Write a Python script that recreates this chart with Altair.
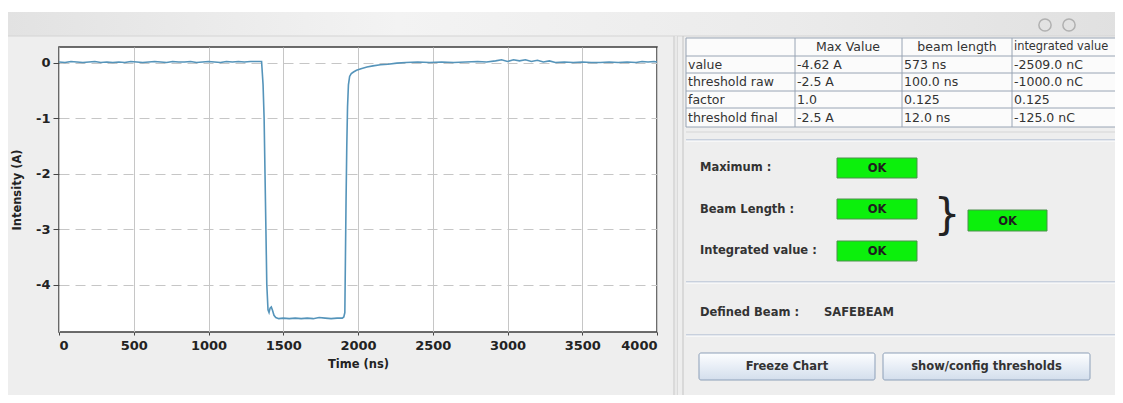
import altair as alt
import pandas as pd

# ---------------- data ----------------
time_ns = [0, 40, 80, 120, 160, 200, 240, 280, 320, 360, 400, 440, 480, 520, 560, 600,
           640, 680, 720, 760, 800, 840, 880, 920, 960, 1000, 1040, 1080, 1120, 1160, 1200,
           1240, 1280, 1320, 1355,
           1365, 1372, 1378, 1384, 1390, 1398, 1405, 1412, 1420, 1428, 1438, 1450, 1470, 1500,
           1540, 1580, 1620, 1660, 1700, 1740, 1780, 1820, 1860, 1895, 1905,
           1912, 1916, 1920, 1925, 1930, 1936, 1944, 1955, 1970, 1990, 2020, 2060, 2100, 2150,
           2200, 2260, 2320, 2400, 2480, 2560, 2640, 2720, 2800, 2860, 2920, 2960, 3000, 3040,
           3080, 3120, 3160, 3200, 3240, 3280, 3320, 3380, 3440, 3500, 3560, 3620, 3680, 3740,
           3800, 3860, 3900, 3940, 3980, 4000]
intensity_a = [0.01, 0.00, 0.02, 0.01, 0.00, 0.01, 0.02, 0.00, 0.01, 0.00, 0.01, 0.00, 0.02,
               0.01, 0.00, 0.01, 0.02, 0.01, 0.00, 0.02, 0.01, 0.01, 0.02, 0.00, 0.01, 0.02,
               0.01, 0.00, 0.02, 0.01, 0.02, 0.01, 0.02, 0.02, 0.02,
               -0.40, -1.00, -2.00, -3.00, -4.00, -4.45, -4.50, -4.42, -4.40, -4.46, -4.55,
               -4.59, -4.61, -4.60, -4.61, -4.60, -4.61, -4.60, -4.61, -4.59, -4.60, -4.61,
               -4.60, -4.60, -4.58,
               -4.50, -3.50, -2.50, -1.50, -0.80, -0.40, -0.25, -0.20, -0.17, -0.14, -0.11,
               -0.08, -0.06, -0.04, -0.03, -0.01, 0.00, 0.01, 0.00, 0.01, 0.00, 0.01, 0.02,
               0.01, 0.03, 0.05, 0.02, 0.05, 0.03, 0.05, 0.02, 0.04, 0.01, 0.03, 0.00, 0.01,
               0.00, 0.01, 0.00, 0.00, 0.01, 0.00, 0.01, 0.00, 0.02, 0.01, 0.02, 0.01]

x_ticks = [0, 500, 1000, 1500, 2000, 2500, 3000, 3500, 4000]
y_ticks = [0, -1, -2, -3, -4]
x_title = "Time (ns)"
y_title = "Intensity (A)"

table_header = ["Max Value", "beam length", "integrated value"]
table_rows = ["value", "threshold raw", "factor", "threshold final"]
max_value_col = ["-4.62 A", "-2.5 A", "1.0", "-2.5 A"]
beam_length_col = ["573 ns", "100.0 ns", "0.125", "12.0 ns"]
integrated_col = ["-2509.0 nC", "-1000.0 nC", "0.125", "-125.0 nC"]

status_labels = ["Maximum :", "Beam Length :", "Integrated value :"]
status_values = ["OK", "OK", "OK"]
overall_status = "OK"
beam_label = "Defined Beam :"
beam_name = "SAFEBEAM"
button_labels = ["Freeze Chart", "show/config thresholds"]

# ---------------- layout (page pixels) ----------------
OX, OY = 59, 47          # plot top-left on the page
PW, PH = 598, 285        # plot size
SVG_W, SVG_H = 1123 - 16, 403 - 16
FONT = "DejaVu Sans"
BG = "#eeeeee"


def X(px):
    return px - OX


def Y(py):
    return py - OY


def pos_enc(df_cols):
    enc = {"x": alt.X("x:Q", scale=None, axis=None), "y": alt.Y("y:Q", scale=None, axis=None)}
    if "x2" in df_cols:
        enc["x2"] = alt.X2("x2:Q")
    if "y2" in df_cols:
        enc["y2"] = alt.Y2("y2:Q")
    return enc


def rects(rows, **kw):
    df = pd.DataFrame(rows)
    enc = pos_enc(df.columns)
    if "fill" in df.columns:
        enc["fill"] = alt.Fill("fill:N", scale=None, legend=None)
    return alt.Chart(df).mark_rect(**kw).encode(**enc)


def rules(rows, **kw):
    df = pd.DataFrame(rows)
    enc = pos_enc(df.columns)
    enc["stroke"] = alt.Stroke("c:N", scale=None, legend=None)
    return alt.Chart(df).mark_rule(**kw).encode(**enc)


def texts(rows, **kw):
    df = pd.DataFrame(rows)
    enc = pos_enc(df.columns)
    enc["text"] = alt.Text("text:N")
    return alt.Chart(df).mark_text(baseline="middle", font=FONT, **kw).encode(**enc)


# ---------------- main line chart ----------------
series = pd.DataFrame({"t": time_ns, "v": intensity_a})

label_style = dict(labelFont=FONT, labelFontWeight="bold", labelFontSize=13, labelColor="#222222",
                   titleFont=FONT, titleFontWeight="bold", titleFontSize=11.5, titleColor="#222222",
                   tickColor="#444444", domain=False)

line = alt.Chart(series).mark_line(color="#5594ba", strokeWidth=1.6, clip=True).encode(
    x=alt.X("t:Q", title=x_title,
            scale=alt.Scale(domain=[0, 4000], nice=False, zero=False),
            axis=alt.Axis(values=x_ticks, grid=True, gridColor="#c6c6c6", gridWidth=1,
                          tickSize=3, labelPadding=4, labelExpr="'' + datum.value",
                          titleY=32, titleBaseline="middle", **label_style)),
    y=alt.Y("v:Q", title=y_title,
            scale=alt.Scale(domain=[-4.85, 0.28], nice=False, zero=False),
            axis=alt.Axis(values=y_ticks, grid=True, gridColor="#c6c6c6", gridDash=[10, 6],
                          gridWidth=1, tickSize=6, labelPadding=3,
                          labelExpr="'' + datum.value",
                          titleX=-42, titleY=PH / 2, titleBaseline="middle", **label_style)),
)

# ---------------- window decorations ----------------
top_white = rects([{"x": X(8), "x2": X(1123), "y": Y(8), "y2": Y(12), "fill": "#ffffff"}])
top_bar = alt.Chart(pd.DataFrame([{"x": X(8), "x2": X(1123), "y": Y(12), "y2": Y(36)}])).mark_rect(
    fill=alt.Gradient(gradient="linear", x1=0, x2=1, y1=0, y2=0,
                      stops=[alt.GradientStop(color="#e2e2e2", offset=0),
                             alt.GradientStop(color="#f3f3f3", offset=0.35),
                             alt.GradientStop(color="#ebebeb", offset=0.7),
                             alt.GradientStop(color="#e0e0e0", offset=1)])
).encode(**pos_enc(["x2", "y2"]))

icons = alt.Chart(pd.DataFrame([{"x": X(1045), "y": Y(25)}, {"x": X(1069), "y": Y(25)},
                                {"x": X(1122), "y": Y(25)}])).mark_point(
    shape="circle", size=150, filled=False, stroke="#9c9c9c", strokeWidth=1.5
).encode(**pos_enc([]))

panels = rects([
    {"x": X(673), "x2": X(678), "y": Y(36), "y2": Y(403), "fill": "#dadada"},
    {"x": X(686), "x2": X(1123), "y": Y(38), "y2": Y(127), "fill": "#fbfbfb"},
], stroke=None)

sep_lines = rules([
    {"x": X(8), "x2": X(1123), "y": Y(36), "y2": Y(36), "c": "#d4d4d4"},
    {"x": X(683), "x2": X(683), "y": Y(36), "y2": Y(403), "c": "#c4c4c4"},
    {"x": X(676), "x2": X(676), "y": Y(36), "y2": Y(403), "c": "#f8f8f8"},
    {"x": X(686), "x2": X(1123), "y": Y(132), "y2": Y(132), "c": "#d6d6d6"},
    {"x": X(686), "x2": X(1123), "y": Y(140), "y2": Y(140), "c": "#a3b3cc"},
    {"x": X(686), "x2": X(1123), "y": Y(141), "y2": Y(141), "c": "#ffffff"},
    {"x": X(686), "x2": X(1123), "y": Y(282), "y2": Y(282), "c": "#a3b3cc"},
    {"x": X(686), "x2": X(1123), "y": Y(283), "y2": Y(283), "c": "#ffffff"},
    {"x": X(686), "x2": X(1123), "y": Y(335), "y2": Y(335), "c": "#a3b3cc"},
    {"x": X(686), "x2": X(1123), "y": Y(336), "y2": Y(336), "c": "#ffffff"},
], strokeWidth=1)

# table grid
col_edges = [686, 795, 902, 1012]
row_edges = [38, 56, 73, 91, 108, 127]
grid_rows = []
for e in col_edges:
    grid_rows.append({"x": X(e), "x2": X(e), "y": Y(row_edges[0]), "y2": Y(row_edges[-1]),
                      "c": "#98a4b4"})
for e in row_edges:
    grid_rows.append({"x": X(col_edges[0]), "x2": X(1123), "y": Y(e), "y2": Y(e), "c": "#98a4b4"})
table_grid = rules(grid_rows, strokeWidth=1)

row_centers = [(row_edges[i] + row_edges[i + 1]) / 2 for i in range(len(row_edges) - 1)]
head_x = [848, 957]
header_center = texts([{"x": X(head_x[i]), "y": Y(row_centers[0]), "text": table_header[i]}
                       for i in range(2)], align="center", fontSize=12.5, color="#333333")
header_left = texts([{"x": X(col_edges[3] + 2), "y": Y(row_centers[0]), "text": table_header[2]}],
                    align="left", fontSize=11.4, color="#333333")
cells = []
columns = [table_rows, max_value_col, beam_length_col, integrated_col]
for ci, col in enumerate(columns):
    for ri, val in enumerate(col):
        cells.append({"x": X(col_edges[ci] + 2), "y": Y(row_centers[ri + 1]), "text": val})
table_text = texts(cells, align="left", fontSize=12.5, color="#333333")

# status section
label_y = [168, 210, 251]
status_text = texts([{"x": X(700), "y": Y(label_y[i]), "text": status_labels[i]} for i in range(3)]
                    + [{"x": X(700), "y": Y(313), "text": beam_label},
                       {"x": X(824), "y": Y(313), "text": beam_name}],
                    align="left", fontSize=11.5, fontWeight="bold", color="#333333")

ok_boxes = [(837, 917, 158, 178), (837, 917, 199, 219), (837, 917, 241, 261)]
big_ok = (968, 1047, 210, 231)
ok_rects = rects([{"x": X(a), "x2": X(b), "y": Y(c), "y2": Y(d), "fill": "#0cf00c"}
                  for (a, b, c, d) in ok_boxes + [big_ok]],
                 stroke="#4d8f4d", strokeWidth=1)
ok_text = texts([{"x": X((a + b) / 2), "y": Y((c + d) / 2 + 1), "text": status_values[i]}
                 for i, (a, b, c, d) in enumerate(ok_boxes)]
                + [{"x": X((big_ok[0] + big_ok[1]) / 2), "y": Y((big_ok[2] + big_ok[3]) / 2 + 1),
                    "text": overall_status}],
                align="center", fontSize=11.5, fontWeight="bold", color="#1e1e1e")
brace = texts([{"x": X(947), "y": Y(216), "text": "}"}], align="center", fontSize=42,
              color="#222222")

# buttons
btn_boxes = [(699, 875, 353, 380), (883, 1090, 353, 380)]
btn_rects = alt.Chart(pd.DataFrame([{"x": X(a), "x2": X(b), "y": Y(c), "y2": Y(d)}
                                    for (a, b, c, d) in btn_boxes])).mark_rect(
    fill=alt.Gradient(gradient="linear", x1=0, x2=0, y1=0, y2=1,
                      stops=[alt.GradientStop(color="#fdfeff", offset=0),
                             alt.GradientStop(color="#e8eef6", offset=0.5),
                             alt.GradientStop(color="#d3deec", offset=1)]),
    stroke="#8c9fb8", strokeWidth=1, cornerRadius=2
).encode(**pos_enc(["x2", "y2"]))
btn_text = texts([{"x": X((a + b) / 2), "y": Y((c + d) / 2), "text": button_labels[i]}
                  for i, (a, b, c, d) in enumerate(btn_boxes)],
                 align="center", fontSize=11.5, fontWeight="bold", color="#333333")

chart = alt.layer(
    top_white, top_bar, icons, panels, sep_lines, table_grid, header_center, header_left,
    table_text, status_text, ok_rects, ok_text, brace, btn_rects, btn_text, line
).resolve_scale(x="independent", y="independent").properties(
    width=PW, height=PH,
    autosize=alt.AutoSizeParams(type="none"),
    padding={"left": OX - 8, "top": OY - 8, "right": SVG_W - (OX - 8) - PW,
             "bottom": SVG_H - (OY - 8) - PH},
    background=BG,
).configure_view(fill="white", stroke="#3c3c3c", strokeWidth=1.5)

chart.save("out.html", embed_options={"renderer": "svg", "actions": False})
